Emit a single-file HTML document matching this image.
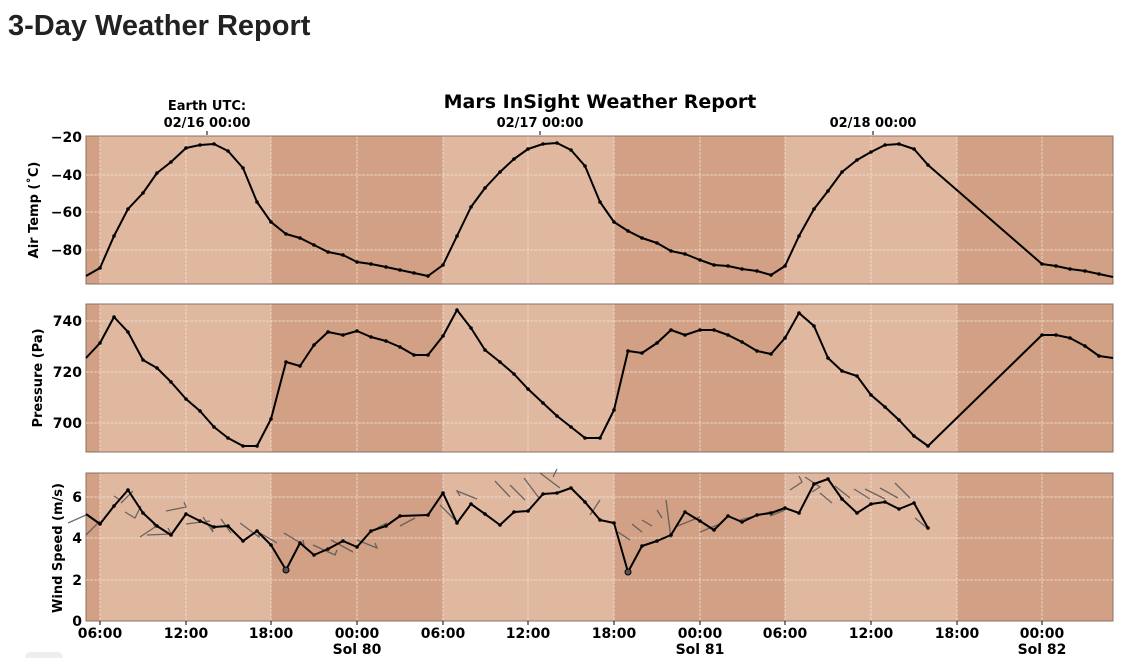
<!DOCTYPE html>
<html><head><meta charset="utf-8"><style>
html,body{margin:0;padding:0;background:#fff;width:1130px;height:658px;overflow:hidden}
svg text{font-family:"DejaVu Sans","Liberation Sans",sans-serif;font-weight:bold;fill:#000}
</style></head><body>
<svg width="1130" height="658" xmlns="http://www.w3.org/2000/svg">
<text x="8" y="35" style="font-family:'Liberation Sans',sans-serif;font-size:29px;font-weight:bold;fill:#222">3-Day Weather Report</text>
<text x="600" y="108" text-anchor="middle" style="font-size:19px">Mars InSight Weather Report</text>
<text x="207" y="110" text-anchor="middle" style="font-size:13px">Earth UTC:</text>
<text x="207" y="127" text-anchor="middle" style="font-size:13px">02/16 00:00</text>
<text x="540" y="127" text-anchor="middle" style="font-size:13px">02/17 00:00</text>
<text x="873" y="127" text-anchor="middle" style="font-size:13px">02/18 00:00</text>
<g stroke="#000"><line x1="207" y1="131" x2="207" y2="135"/><line x1="540" y1="131" x2="540" y2="135"/><line x1="873" y1="131" x2="873" y2="135"/></g>

<defs>
<g id="bg">
<rect x="86" y="0" width="1027" height="148" fill="#d2a084"/>
<rect x="100" y="0" width="171" height="148" fill="#e0b8a0"/>
<rect x="443" y="0" width="171" height="148" fill="#e0b8a0"/>
<rect x="785" y="0" width="172" height="148" fill="#e0b8a0"/>
<g stroke="#f2e2d6" stroke-width="0.8" stroke-dasharray="3,1">
<line x1="100" y1="0" x2="100" y2="148"/><line x1="186" y1="0" x2="186" y2="148"/><line x1="271" y1="0" x2="271" y2="148"/><line x1="357" y1="0" x2="357" y2="148"/><line x1="443" y1="0" x2="443" y2="148"/><line x1="528" y1="0" x2="528" y2="148"/><line x1="614" y1="0" x2="614" y2="148"/><line x1="700" y1="0" x2="700" y2="148"/><line x1="785" y1="0" x2="785" y2="148"/><line x1="871" y1="0" x2="871" y2="148"/><line x1="957" y1="0" x2="957" y2="148"/><line x1="1042" y1="0" x2="1042" y2="148"/>
</g>
<rect x="86" y="0" width="1027" height="148" fill="none" stroke="#8a7060" stroke-width="1"/>
</g>
</defs>

<g transform="translate(0,136)"><use href="#bg"/></g>
<g stroke="#f2e2d6" stroke-width="0.8" stroke-dasharray="3,1"><line x1="86" y1="175" x2="1113" y2="175"/><line x1="86" y1="212" x2="1113" y2="212"/><line x1="86" y1="250" x2="1113" y2="250"/></g>
<g text-anchor="end" style="font-size:14px"><text x="82" y="142">−20</text><text x="82" y="180">−40</text><text x="82" y="217">−60</text><text x="82" y="255">−80</text></g>
<text transform="translate(38,210) rotate(-90)" text-anchor="middle" style="font-size:13px">Air Temp (˚C)</text>
<polyline fill="none" stroke="#000" stroke-width="2" stroke-linejoin="round" marker-mid="url(#m)" points="86,276 100,268 114,236 128,209 143,193 157,173 171,162 186,148 200,145 214,144 228,151 243,168 257,202 271,222 286,234 300,238 314,245 328,252 343,255 357,262 371,264 386,267 400,270 414,273 428,276 443,265 457,236 471,207 485,188 500,172 514,159 528,149 543,144 557,143 571,150 585,166 600,202 614,222 628,231 642,238 657,243 671,251 685,254 700,260 714,265 728,266 742,269 757,271 771,275 785,266 799,236 814,209 828,191 842,172 857,160 871,152 885,145 899,144 914,149 928,165 1042,264 1056,266 1070,269 1085,271 1099,274 1113,277"/>
<defs><marker id="m" markerWidth="4" markerHeight="4" refX="2" refY="2" markerUnits="userSpaceOnUse"><circle cx="2" cy="2" r="1.8" fill="#000"/></marker></defs>

<g transform="translate(0,304)"><use href="#bg"/></g>
<g stroke="#f2e2d6" stroke-width="0.8" stroke-dasharray="3,1"><line x1="86" y1="321" x2="1113" y2="321"/><line x1="86" y1="372" x2="1113" y2="372"/><line x1="86" y1="423" x2="1113" y2="423"/></g>
<g text-anchor="end" style="font-size:14px"><text x="82" y="326">740</text><text x="82" y="377">720</text><text x="82" y="428">700</text></g>
<text transform="translate(42,378) rotate(-90)" text-anchor="middle" style="font-size:13px">Pressure (Pa)</text>
<polyline fill="none" stroke="#000" stroke-width="2" stroke-linejoin="round" marker-mid="url(#m)" points="86,358 100,343 114,317 128,332 143,360 157,368 171,382 186,399 200,411 214,427 228,438 243,446 257,446 271,419 286,362 300,366 314,345 328,332 343,335 357,331 371,337 386,341 400,347 414,355 428,355 443,336 457,310 471,328 485,350 500,362 514,374 528,389 543,403 557,416 571,427 585,438 600,438 614,410 628,351 642,353 657,343 671,330 685,335 700,330 714,330 728,335 742,342 757,351 771,354 785,338 799,313 814,326 828,358 842,371 857,376 871,395 885,407 899,420 914,436 928,446 1042,335 1056,335 1070,338 1085,346 1099,356 1113,358"/>

<g transform="translate(0,473)"><use href="#bg"/></g>
<g stroke="#f2e2d6" stroke-width="0.8" stroke-dasharray="3,1"><line x1="86" y1="497" x2="1113" y2="497"/><line x1="86" y1="538" x2="1113" y2="538"/><line x1="86" y1="580" x2="1113" y2="580"/></g>
<g text-anchor="end" style="font-size:14px"><text x="82" y="502">6</text><text x="82" y="543">4</text><text x="82" y="585">2</text><text x="82" y="626">0</text></g>
<text transform="translate(62,548) rotate(-90)" text-anchor="middle" style="font-size:13px">Wind Speed (m/s)</text>
<g fill="none" stroke="#555" stroke-width="1.3" opacity="0.85">
<path d="M68,523 l18,-8 M100,521 l-14,14 M120,500 l-6,-4 M133,491 l-12,12 M125,512 l10,6 l6,-12 M140,537 l15,-10 l-2,-4 M147,535 l24,-1 l-3,-6 M166,511 l20,-4 l-2,-5 M186,524 l24,-3 M203,517 l10,15 l-2,-7 M221,519 l10,14 M240,523 l19,14 l0,-5 M260,533 l17,10 M284,533 l20,12 l-1,-5 M313,545 l22,10 l2,-5 M331,540 l22,12 M357,540 l20,8 l-2,-5 M377,528 l10,-5 M400,526 l15,-8 M440,505 l18,18 M460,496 l-3,-5 l20,8 M495,481 l15,16 M510,485 l15,15 M524,478 l15,20 M540,473 l20,15 M557,469 l-4,8 M600,500 l-10,15 M630,540 l-12,-8 M642,532 l-10,-8 M652,526 l-10,-6 M662,518 l-5,-8 M666,500 l5,38 M675,527 l25,-10 M700,532 l20,-8 M740,520 l30,-8 M785,510 l-15,6 M790,490 l12,-8 l-3,-6 M805,477 l15,10 l-8,5 M820,493 l12,10 M835,486 l15,12 M854,489 l16,10 M865,489 l20,10 M880,488 l18,10 M895,483 l15,15 M915,518 l12,10"/>
</g>
<polyline fill="none" stroke="#000" stroke-width="2" stroke-linejoin="round" marker-mid="url(#m)" marker-end="url(#m)" points="86,514 100,524 114,506 128,490 143,513 157,526 171,535 186,514 200,521 214,527 228,526 243,541 257,531 271,545 286,570 300,543 314,555 328,549 343,541 357,547 371,531 386,526 400,516 428,515 443,493 457,523 471,504 485,514 500,525 514,512 528,511 543,494 557,493 571,488 585,502 600,520 614,523 628,572 642,546 657,541 671,535 685,512 700,521 714,530 728,516 742,522 757,515 771,513 785,508 799,513 814,484 828,479 842,499 857,513 871,504 885,502 899,509 914,503 928,528"/>
<circle cx="286" cy="570" r="3" fill="#555" stroke="#000"/><circle cx="628" cy="572" r="3" fill="#555" stroke="#000"/>

<g stroke="#000"><line x1="100" y1="621" x2="100" y2="625"/><line x1="186" y1="621" x2="186" y2="625"/><line x1="271" y1="621" x2="271" y2="625"/><line x1="357" y1="621" x2="357" y2="625"/><line x1="443" y1="621" x2="443" y2="625"/><line x1="528" y1="621" x2="528" y2="625"/><line x1="614" y1="621" x2="614" y2="625"/><line x1="700" y1="621" x2="700" y2="625"/><line x1="785" y1="621" x2="785" y2="625"/><line x1="871" y1="621" x2="871" y2="625"/><line x1="957" y1="621" x2="957" y2="625"/><line x1="1042" y1="621" x2="1042" y2="625"/></g>
<g text-anchor="middle" style="font-size:14px">
<text x="100" y="638">06:00</text><text x="186" y="638">12:00</text><text x="271" y="638">18:00</text><text x="357" y="638">00:00</text><text x="357" y="654">Sol 80</text>
<text x="443" y="638">06:00</text><text x="528" y="638">12:00</text><text x="614" y="638">18:00</text><text x="700" y="638">00:00</text><text x="700" y="654">Sol 81</text>
<text x="785" y="638">06:00</text><text x="871" y="638">12:00</text><text x="957" y="638">18:00</text><text x="1042" y="638">00:00</text><text x="1042" y="654">Sol 82</text>
</g>
<rect x="25" y="652" width="38" height="10" rx="5" fill="#eee"/>
</svg>
</body></html>
